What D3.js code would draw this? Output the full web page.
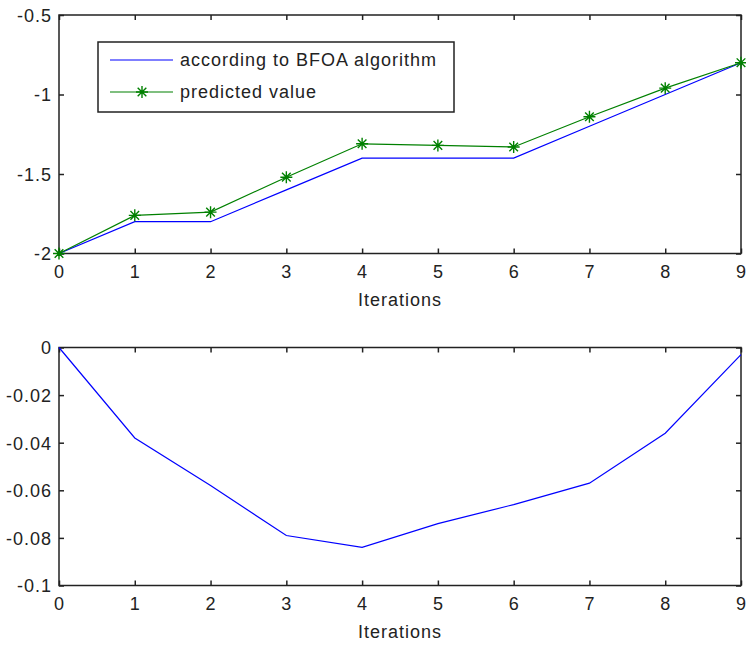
<!DOCTYPE html>
<html>
<head>
<meta charset="utf-8">
<script src="https://cdn.jsdelivr.net/npm/d3@7"></script>
<style>
	body { margin: 0; background: #fff; }
	text { font-family: "Liberation Sans", Arial, sans-serif; font-size: 18px; letter-spacing: 1px; fill: #222; }
</style>
</head>
<body>
<svg id="chart" width="746" height="646"></svg>
<script>
var iterations = [0, 1, 2, 3, 4, 5, 6, 7, 8, 9];
var bfoaValues = [-2, -1.8, -1.8, -1.6, -1.4, -1.4, -1.4, -1.2, -1.0, -0.8];
var predictedValues = [-2, -1.76, -1.74, -1.52, -1.31, -1.32, -1.33, -1.14, -0.96, -0.8];
var errorValues = [0, -0.038, -0.058, -0.079, -0.084, -0.074, -0.066, -0.057, -0.036, -0.003];

var topYTicks = [-2, -1.5, -1, -0.5];
var bottomYTicks = [-0.1, -0.08, -0.06, -0.04, -0.02, 0];
var legendLabels = ["according to BFOA algorithm", "predicted value"];

var svg = d3.select("#chart");
var axisColor = "#222";

function drawPanel(box, yDomain, yTicks) {
	var g = svg.append("g");
	var x = d3.scaleLinear().domain([0, 9]).range([box.x0, box.x1]);
	var y = d3.scaleLinear().domain(yDomain).range([box.y1, box.y0]);

	// ticks inside, on all four sides (matlab style)
	var tk = 5;
	var axB = d3.axisBottom(x).tickValues(iterations).tickSizeInner(-tk).tickSizeOuter(0).tickPadding(12);
	var axT = d3.axisTop(x).tickValues(iterations).tickSizeInner(-tk).tickSizeOuter(0).tickFormat("");
	var axL = d3.axisLeft(y).tickValues(yTicks).tickSizeInner(-tk).tickSizeOuter(0).tickPadding(7).tickFormat(function(d) { return String(+d.toFixed(3)); });
	var axR = d3.axisRight(y).tickValues(yTicks).tickSizeInner(-tk).tickSizeOuter(0).tickFormat("");

	var gb = g.append("g").attr("transform", "translate(0," + box.y1 + ")").call(axB);
	g.append("g").attr("transform", "translate(0," + box.y0 + ")").call(axT);
	var gl = g.append("g").attr("transform", "translate(" + box.x0 + ",0)").call(axL);
	g.append("g").attr("transform", "translate(" + box.x1 + ",0)").call(axR);

	g.selectAll(".domain").remove();
	g.selectAll(".tick line").attr("stroke", axisColor).attr("stroke-width", 1.5);
	g.selectAll(".tick text").attr("font-family", null).attr("font-size", null).attr("fill", axisColor);
	gb.selectAll(".tick text").attr("dy", "0.71em");
	gl.selectAll(".tick text").attr("dy", "0.36em");

	g.append("rect")
		.attr("x", box.x0).attr("y", box.y0)
		.attr("width", box.x1 - box.x0).attr("height", box.y1 - box.y0)
		.attr("fill", "none").attr("stroke", axisColor).attr("stroke-width", 1.5);

	g.append("text").attr("x", (box.x0 + box.x1) / 2).attr("y", box.y1 + 46)
		.attr("text-anchor", "middle").attr("dy", "0.36em").text("Iterations");

	return {g: g, x: x, y: y};
}

function starMarker(sel, size) {
	var r = size / 2, d = r * 0.72;
	var path = "M0," + (-r) + "L0," + r +
		"M" + (-r) + ",0L" + r + ",0" +
		"M" + (-d) + "," + (-d) + "L" + d + "," + d +
		"M" + (-d) + "," + d + "L" + d + "," + (-d);
	sel.append("path").attr("d", path).attr("stroke", "#008000").attr("stroke-width", 1.4).attr("fill", "none");
}

// top panel
var p1 = drawPanel({x0: 59, x1: 741, y0: 15, y1: 253.5}, [-2, -0.5], topYTicks);
var line1 = d3.line().x(function(d, i) { return p1.x(iterations[i]); }).y(function(d) { return p1.y(d); });

p1.g.append("path").datum(bfoaValues).attr("d", line1)
	.attr("fill", "none").attr("stroke", "#0000ff").attr("stroke-width", 1.2);
p1.g.append("path").datum(predictedValues).attr("d", line1)
	.attr("fill", "none").attr("stroke", "#008000").attr("stroke-width", 1.2);
p1.g.selectAll(".star").data(predictedValues).enter().append("g")
	.attr("class", "star")
	.attr("transform", function(d, i) { return "translate(" + p1.x(iterations[i]) + "," + p1.y(d) + ")"; })
	.each(function() { starMarker(d3.select(this), 12); });

// legend
var lg = p1.g.append("g").attr("transform", "translate(98,42)");
lg.append("rect").attr("width", 356).attr("height", 70)
	.attr("fill", "#fff").attr("stroke", axisColor).attr("stroke-width", 1.5);
var legendColors = ["#0000ff", "#008000"];
legendLabels.forEach(function(label, i) {
	var ly = 18 + i * 32;
	lg.append("line").attr("x1", 12).attr("x2", 75).attr("y1", ly).attr("y2", ly)
		.attr("stroke", legendColors[i]).attr("stroke-width", 1.2);
	if (i == 1) {
		var m = lg.append("g").attr("transform", "translate(44," + ly + ")");
		starMarker(m, 12);
	}
	lg.append("text").attr("x", 82).attr("y", ly).attr("dy", "0.36em").text(label);
});

// bottom panel
var p2 = drawPanel({x0: 59, x1: 741, y0: 347.5, y1: 585.5}, [-0.1, 0], bottomYTicks);
var line2 = d3.line().x(function(d, i) { return p2.x(iterations[i]); }).y(function(d) { return p2.y(d); });
p2.g.append("path").datum(errorValues).attr("d", line2)
	.attr("fill", "none").attr("stroke", "#0000ff").attr("stroke-width", 1.2);
</script>
</body>
</html>
